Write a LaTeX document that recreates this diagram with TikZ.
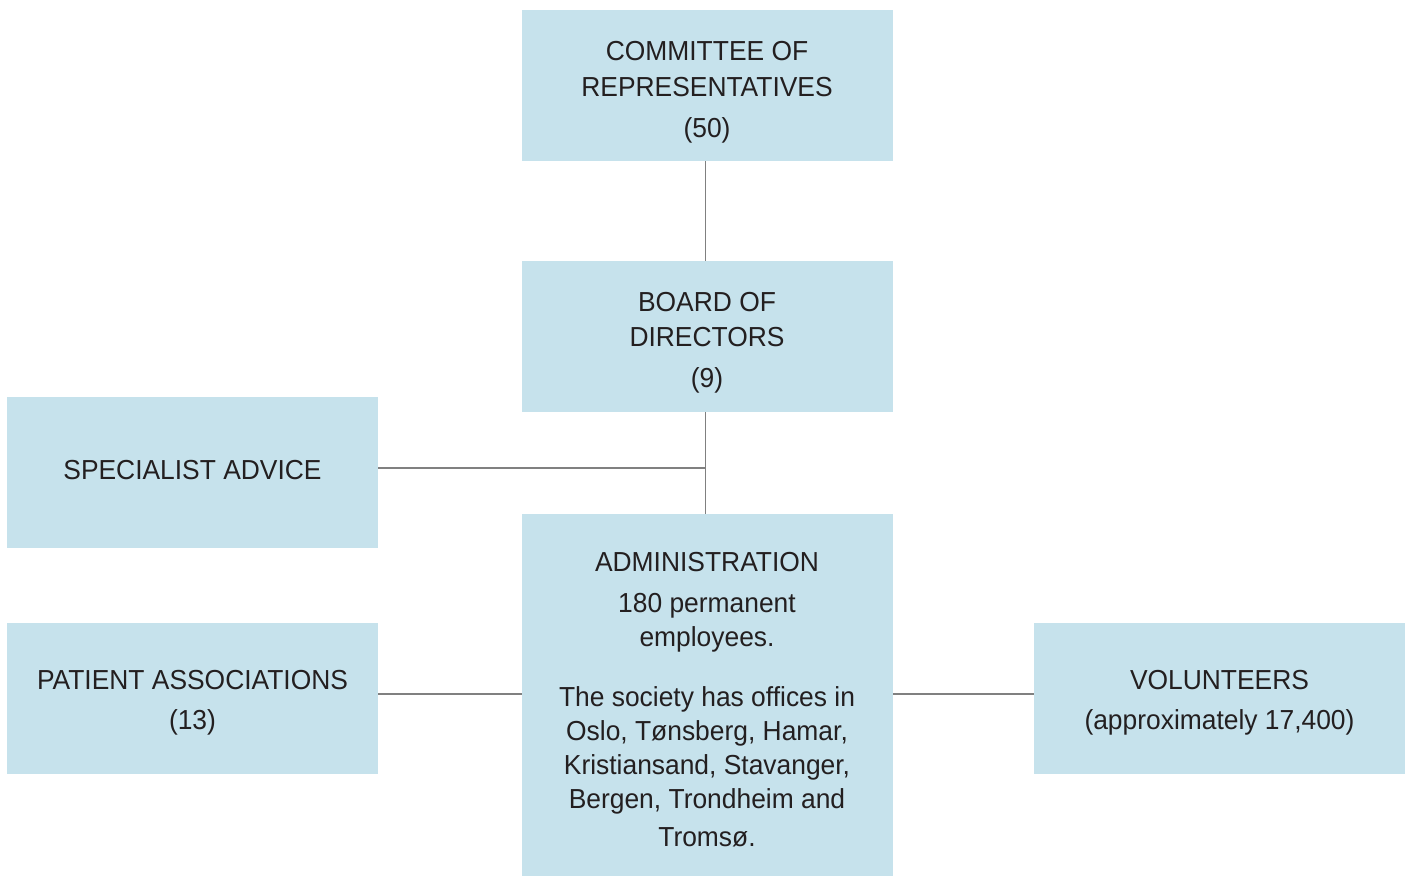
\documentclass[tikz,border=0pt]{standalone}
\usepackage{fontspec}
\setmainfont{Liberation Sans}[FakeStretch=0.96]
\definecolor{boxblue}{HTML}{C6E2EC}
\definecolor{linegray}{HTML}{808080}
\definecolor{txtcol}{HTML}{231F20}
\begin{document}
\begin{tikzpicture}[x=1pt,y=-1pt,
  box/.style={rectangle,fill=boxblue,draw=none,inner sep=0pt,minimum width=371pt,minimum height=151pt},
  txt/.style={anchor=base,align=center,inner sep=0pt,text=txtcol,font=\fontsize{27.5}{34}\selectfont},
  conn/.style={draw=linegray,line width=1.2pt}]
\useasboundingbox (0,0) rectangle (1408,876);
% boxes
\node[box] (com) at (707.5,85.5) {};
\node[box] (brd) at (707.5,336.5) {};
\node[box] (spec) at (192.5,472.5) {};
\node[box,minimum height=362pt] (adm) at (707.5,695) {};
\node[box] (pat) at (192.5,698.5) {};
\node[box] (vol) at (1219.5,698.5) {};
% junctions
\coordinate (jspec) at (705.5,468);
\coordinate (jside) at (705.5,694);
% connectors
\draw[conn] (com.south -| jspec) -- (brd.north -| jspec);
\draw[conn] (brd.south -| jspec) -- (adm.north -| jspec);
\draw[conn] (spec.east |- jspec) -- (jspec);
\draw[conn] (pat.east |- jside) -- (adm.west |- jside);
\draw[conn] (adm.east |- jside) -- (vol.west |- jside);
% texts (anchor = baseline of last line)
\node[txt] (comt) at (707,137.5) {COMMITTEE OF\\[2pt]REPRESENTATIVES\\[7pt](50)};
\node[txt] (brdt) at (707,387) {BOARD OF\\[1pt]DIRECTORS\\[7pt](9)};
\node[txt] (spect) at (192.5,479) {SPECIALIST ADVICE};
\node[txt] (admt) at (707,846) {ADMINISTRATION\\[7pt]180 permanent\\employees.\\[26pt]The society has offices in\\Oslo, Tønsberg, Hamar,\\Kristiansand, Stavanger,\\Bergen, Trondheim and\\[4pt]Tromsø.};
\node[txt] (patt) at (192.5,729) {PATIENT ASSOCIATIONS\\[6pt](13)};
\node[txt] (volt) at (1219.5,729) {VOLUNTEERS\\[6pt](approximately 17,400)};
\end{tikzpicture}
\end{document}
